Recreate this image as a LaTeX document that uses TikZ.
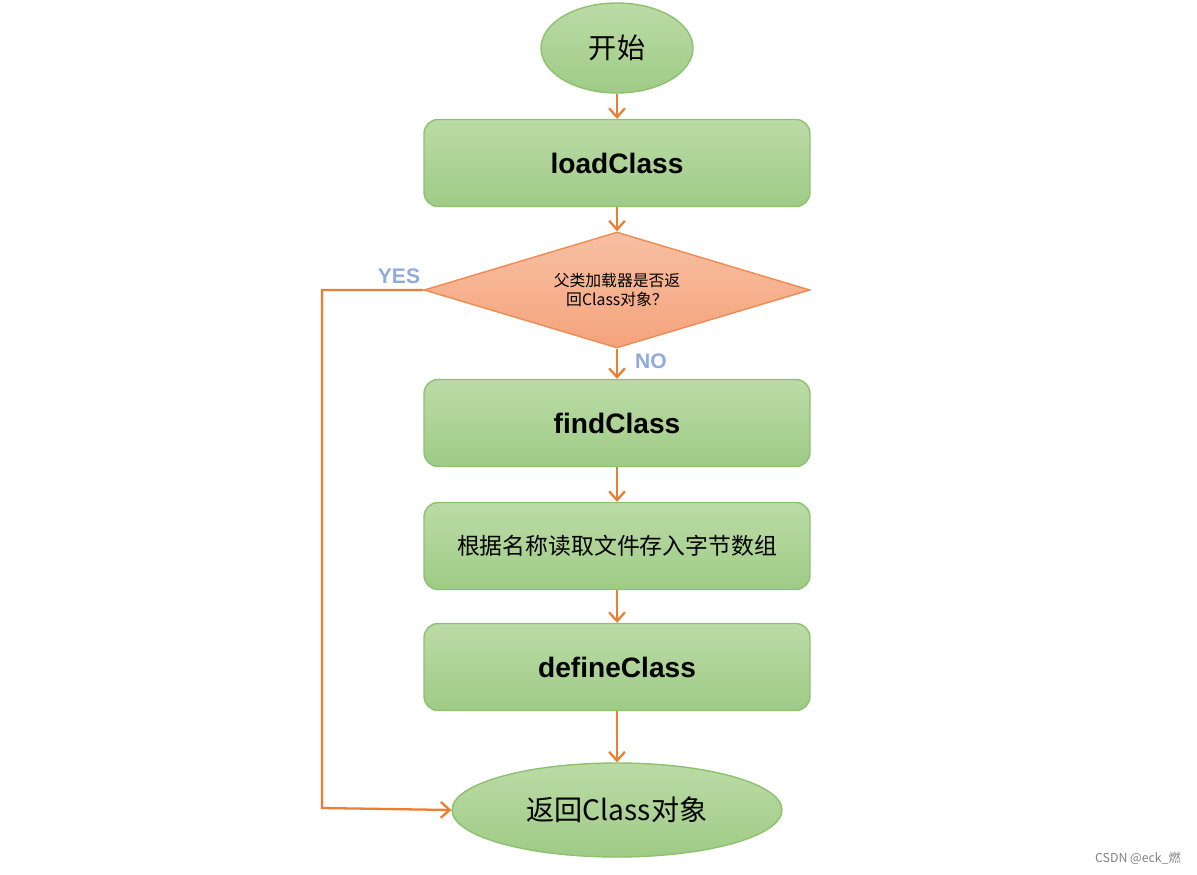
\documentclass[tikz,border=0pt]{standalone}
\usepackage{fontspec}
\setmainfont{Liberation Sans}
\newfontfamily\cjk{Noto Sans CJK SC}
\usetikzlibrary{shapes.geometric,arrows.meta}
\definecolor{gtop}{HTML}{BBDBA6}
\definecolor{gbot}{HTML}{9FCB86}
\definecolor{gbrd}{HTML}{8CC16E}
\definecolor{otop}{HTML}{F8C0A2}
\definecolor{obot}{HTML}{F4A37C}
\definecolor{obrd}{HTML}{EE8A52}
\definecolor{arr}{HTML}{ED7D31}
\definecolor{lbl}{HTML}{4472C4}
\tikzset{
 gfill/.style={top color=gtop,bottom color=gbot,draw=gbrd,line width=0.8pt},
 box/.style={gfill,rectangle,rounded corners=8pt,minimum width=7.72cm,minimum height=1.74cm,inner sep=0},
 oval/.style={gfill,ellipse,inner sep=0},
 conn/.style={draw=arr,line width=1.3pt,-{Straight Barb[length=5pt,width=9pt]}},
 lab/.style={text=lbl!60,font=\bfseries\large},
 bigtxt/.style={font=\bfseries\fontsize{16}{18}\selectfont}
}
\begin{document}
\begin{tikzpicture}[x=0.02cm,y=-0.02cm]
\useasboundingbox (0,0) rectangle (1197,875);
\node[oval,minimum width=3.04cm,minimum height=1.8cm] (s) at (617,48) {\cjk\fontsize{16}{18}\selectfont 开始};
\node[box,bigtxt] (lc) at (617,163) {loadClass};
\node[diamond,top color=otop,bottom color=obot,draw=obrd,line width=0.8pt,minimum width=7.72cm,minimum height=2.32cm,inner sep=0] (d) at (617,290) {};
\node[align=center,font=\cjk\small] (dt) at (d) {父类加载器是否返\\回Class对象？};
\node[box,bigtxt] (fc) at (617,423) {findClass};
\node[box,font=\cjk\fontsize{13}{15}\selectfont] (rd) at (617,546) {根据名称读取文件存入字节数组};
\node[box,bigtxt] (dc) at (617,667) {defineClass};
\node[oval,minimum width=6.6cm,minimum height=1.88cm] (e) at (617,810) {\cjk\fontsize{16}{18}\selectfont 返回Class对象};
\draw[conn] (s) -- (lc);
\draw[conn] (lc) -- (d);
\draw[conn] (d) -- (fc);
\draw[conn] (fc) -- (rd);
\draw[conn] (rd) -- (dc);
\draw[conn] (dc) -- (e);
\coordinate (c1) at (322,290);
\coordinate (c2) at (322,808);
\draw[conn] (d.west) -- (c1) -- (c2) -- (e.west);
\node[lab] (yes) at (399,276) {YES};
\node[lab] (no) at (651,361) {NO};
\node[text=gray,font=\cjk\scriptsize] (wm) at (1138,858) {CSDN @eck\_燃};
\end{tikzpicture}
\end{document}
